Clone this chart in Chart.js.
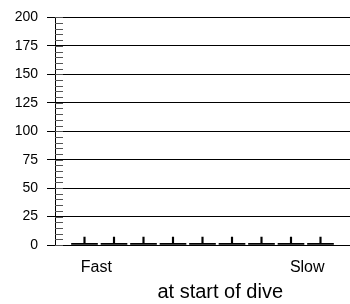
<!DOCTYPE html>
<html>
<head>
<meta charset="utf-8">
<script src="https://cdn.jsdelivr.net/npm/chart.js@4"></script>
<style>
  html, body { margin: 0; padding: 0; background: #fff; }
  #wrap { width: 350px; height: 304px; }
</style>
</head>
<body>
<div id="wrap"><canvas id="myChart" width="350" height="304"></canvas></div>
<script>
// categories (swim speed groups, fast -> slow)
var groups = [1, 2, 3, 4, 5, 6, 7, 8, 9];
// box low / high and whisker top for each group
var boxLow = [0, 0, 0, 0, 0, 0, 0, 0, 0];
var boxHigh = [1.5, 1.5, 1.5, 1.5, 1.5, 1.5, 1.5, 1.5, 1.5];
var whiskerTop = [7, 7, 7, 7, 7, 7, 7, 7, 7];

var xTickPos = [1.4, 8.55];
var xTickText = ['Fast', 'Slow'];
var xTitle = 'at start of dive';
var yMax = 200;

var fontName = '"Liberation Sans", Arial, sans-serif';

var boxData = [];
var whiskerData = [];
for (var i = 0; i < groups.length; i++) {
    boxData.push({x: groups[i], y: [boxLow[i], boxHigh[i]]});
    whiskerData.push({x: groups[i], y: [boxHigh[i], whiskerTop[i]]});
}

// minor ticks on the inside of the y axis + axis title
var extras = {
    id: 'extras',
    afterDraw: function(chart) {
        var c = chart.ctx, y = chart.scales.y, x = chart.scales.x;
        var left = chart.chartArea.left;
        c.save();
        c.strokeStyle = '#555';
        c.lineWidth = 1;
        for (var v = 0; v <= yMax; v += 5) {
            var py = Math.round(y.getPixelForValue(v)) + 0.5;
            c.beginPath();
            c.moveTo(left, py);
            c.lineTo(left + 8, py);
            c.stroke();
        }
        c.fillStyle = '#000';
        c.font = '20px ' + fontName;
        c.textAlign = 'center';
        c.textBaseline = 'middle';
        c.fillText(xTitle, x.getPixelForValue(5.6), 292);
        c.restore();
    }
};

var ctx = document.getElementById('myChart').getContext('2d');
var myChart = new Chart(ctx, {
    type: 'bar',
    data: {
        datasets: [{
            label: 'box',
            data: boxData,
            backgroundColor: '#000',
            barThickness: 26,
            grouped: false
        }, {
            label: 'whisker',
            data: whiskerData,
            backgroundColor: '#000',
            barThickness: 1.5,
            grouped: false
        }]
    },
    options: {
        responsive: false,
        animation: false,
        layout: {padding: {top: 16, right: 0, left: 0, bottom: 0}},
        plugins: {legend: {display: false}, tooltip: {enabled: false}},
        scales: {
            x: {
                type: 'linear',
                min: 0,
                max: 10,
                offset: false,
                grid: {display: false, drawTicks: false},
                border: {display: false},
                afterBuildTicks: function(scale) {
                    scale.ticks = xTickPos.map(function(v) { return {value: v}; });
                },
                afterFit: function(scale) { scale.height = 59; },
                ticks: {
                    autoSkip: false,
                    maxRotation: 0,
                    padding: 13,
                    color: '#000',
                    font: {family: fontName, size: 16},
                    callback: function(v) {
                        var k = xTickPos.indexOf(v);
                        return k >= 0 ? xTickText[k] : '';
                    }
                }
            },
            y: {
                min: 0,
                max: yMax,
                afterFit: function(scale) { scale.width = 55; },
                grid: {color: '#000', lineWidth: 1, tickLength: 8, tickColor: '#000'},
                border: {display: true, color: '#000', width: 1},
                ticks: {
                    stepSize: 25,
                    padding: 9,
                    color: '#000',
                    font: {family: fontName, size: 14}
                }
            }
        }
    },
    plugins: [extras]
});
</script>
</body>
</html>
